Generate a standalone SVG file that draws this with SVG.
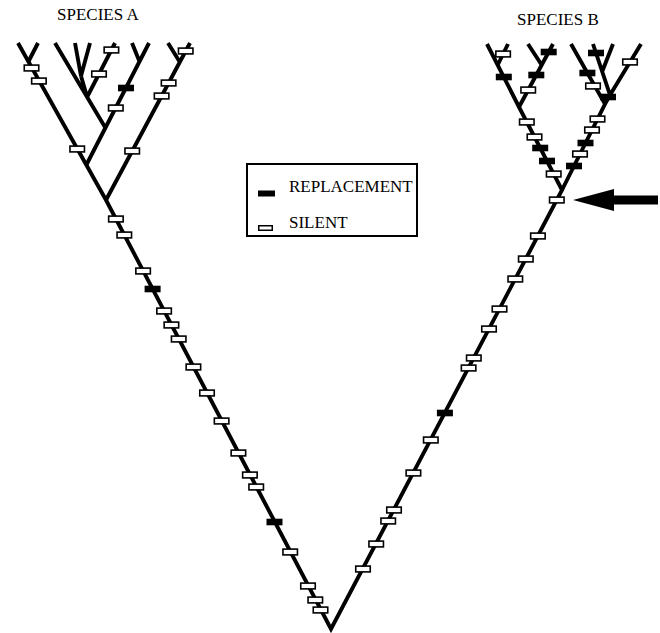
<svg xmlns="http://www.w3.org/2000/svg" xmlns:xlink="http://www.w3.org/1999/xlink" width="660" height="633" viewBox="0 0 660 633">
<style>
.br{fill:none;stroke:#000;stroke-width:3.9;stroke-linejoin:miter;stroke-linecap:butt}
.lbl{font-family:"Liberation Serif","Times New Roman",serif;font-size:17px;fill:#000}
</style>
<defs>
<rect id="s" x="-7.25" y="-2.9" width="14.5" height="5.8" fill="#fff" stroke="#000" stroke-width="1.6"/>
<rect id="r" x="-8" y="-3.3" width="16" height="6.6" fill="#000"/>
</defs>
<rect width="660" height="633" fill="#fff"/>
<g id="connectors">
<polyline class="br" points="18,43 106,200 331,629 562,190 519,107 487,44"/>
<path class="br" d="M28.2,62L38,43 M86.3,165L149,43 M139.7,62L132,43 M105.5,128L55,43 M87.1,97L115,43 M75,43L81,76L90,43 M81,76L87.1,97 M106,200L190,43 M179.8,62L168,43"/>
<path class="br" d="M497.7,65L508,44 M519,107L553,44 M541.7,65L528,44 M562,190L605,104L571,44 M605,104L610,95L593,44 M602,72L613,44 M610,95L641,44"/>
</g>
<g id="species-a-markers">
<use href="#s" x="31.5" y="68"/><use href="#s" x="38.9" y="81"/><use href="#s" x="77.2" y="149"/>
<use href="#s" x="115.8" y="108"/><use href="#r" x="126" y="88"/>
<use href="#s" x="99" y="74"/><use href="#s" x="111.4" y="50"/>
<use href="#s" x="132.2" y="151"/><use href="#s" x="161.6" y="96"/><use href="#s" x="168.6" y="83"/><use href="#s" x="185.7" y="51"/>
</g>
<g id="left-lineage-markers">
<use href="#s" x="115.9" y="219"/><use href="#s" x="124.3" y="235"/><use href="#s" x="143.1" y="271"/><use href="#r" x="152.6" y="289"/>
<use href="#s" x="164.1" y="311"/><use href="#s" x="171.4" y="325"/><use href="#s" x="178.7" y="339"/><use href="#s" x="193.4" y="367"/>
<use href="#s" x="207" y="393"/><use href="#s" x="221.6" y="421"/><use href="#s" x="238.4" y="453"/><use href="#s" x="249.9" y="475"/>
<use href="#s" x="256.2" y="487"/><use href="#r" x="274.5" y="522"/><use href="#s" x="290.2" y="552"/><use href="#s" x="308" y="586"/>
<use href="#s" x="315.3" y="600"/><use href="#s" x="320.5" y="610"/>
</g>
<g id="right-lineage-markers">
<use href="#s" x="556.8" y="200"/><use href="#s" x="537.9" y="236"/><use href="#s" x="525.8" y="259"/><use href="#s" x="515.3" y="279"/>
<use href="#s" x="499.5" y="309"/><use href="#s" x="489" y="329"/><use href="#s" x="473.8" y="358"/><use href="#s" x="468.6" y="368"/>
<use href="#r" x="444.9" y="413"/><use href="#s" x="430.8" y="440"/><use href="#s" x="413.4" y="473"/><use href="#s" x="394" y="510"/>
<use href="#s" x="388.2" y="521"/><use href="#s" x="376.2" y="544"/><use href="#s" x="363" y="569"/>
</g>
<g id="species-b-markers">
<use href="#s" x="526.8" y="122"/><use href="#s" x="534.5" y="137"/><use href="#r" x="540.2" y="148"/><use href="#r" x="547" y="161"/><use href="#s" x="553.7" y="174"/>
<use href="#r" x="503.8" y="77"/><use href="#s" x="503.1" y="54"/>
<use href="#r" x="548.7" y="52"/><use href="#r" x="536.3" y="75"/><use href="#s" x="528.2" y="90"/>
<use href="#s" x="597.5" y="119"/><use href="#s" x="592" y="130"/><use href="#r" x="585.5" y="143"/><use href="#s" x="580" y="154"/><use href="#r" x="574" y="166"/>
<use href="#r" x="587.4" y="73"/><use href="#s" x="593" y="86"/>
<use href="#r" x="596" y="53"/><use href="#s" x="630" y="62"/><use href="#r" x="608" y="97"/>
</g>
<g id="label-species-a"><text class="lbl" x="57" y="20">SPECIES A</text></g>
<g id="label-species-b"><text class="lbl" x="517" y="25">SPECIES B</text></g>
<g id="arrow"><polygon points="573,200 614,189 614,195.5 658,195.5 658,204.5 614,204.5 614,211" fill="#000"/></g>
<g id="legend">
<rect x="247" y="164" width="170" height="72" fill="none" stroke="#000" stroke-width="2"/>
<rect x="258" y="190.5" width="17" height="6" fill="#000"/>
<rect x="258.75" y="225.75" width="13.5" height="4.5" fill="#fff" stroke="#000" stroke-width="1.5"/>
<text class="lbl" x="289" y="192">REPLACEMENT</text>
<text class="lbl" x="289" y="228">SILENT</text>
</g>
</svg>
